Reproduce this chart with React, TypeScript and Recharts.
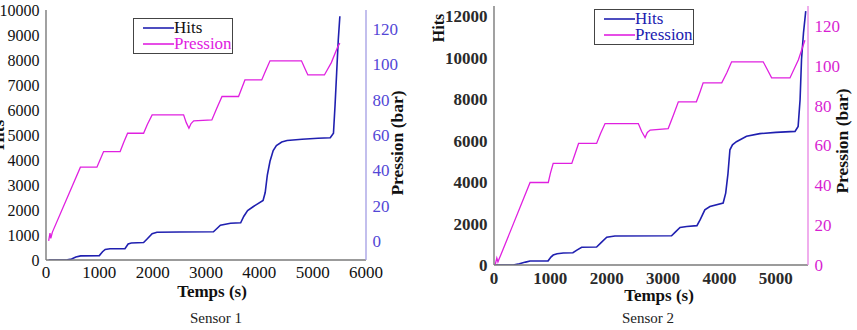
import React from "react";
import { LineChart, Line, XAxis, YAxis, Legend } from "recharts";

// Sensor 1: cumulative hits over time
const s1HitsTime = [50, 400, 480, 560, 650, 1000, 1060, 1110, 1200, 1480, 1540, 1600, 1830, 1900, 1990, 2080, 2500, 3140, 3200, 3270, 3460, 3650, 3710, 3780, 3890, 4070, 4110, 4150, 4200, 4260, 4320, 4420, 4520, 4800, 5100, 5330, 5390, 5420, 5450, 5480, 5510];
const s1Hits = [0, 10, 40, 120, 165, 175, 330, 420, 450, 450, 640, 680, 700, 850, 1050, 1110, 1120, 1130, 1250, 1390, 1470, 1490, 1750, 1980, 2140, 2380, 2700, 3400, 3950, 4380, 4580, 4720, 4780, 4830, 4870, 4890, 5070, 6200, 7500, 8800, 9750];

// Sensor 1: pressure (bar)
const s1PressTime = [50, 75, 90, 120, 645, 955, 1000, 1080, 1390, 1460, 1530, 1830, 1900, 1990, 2580, 2630, 2680, 2720, 2770, 3110, 3200, 3300, 3610, 3670, 3730, 4045, 4120, 4200, 4790, 4850, 4910, 5220, 5350, 5470, 5510];
const s1Press = [0, 4.5, 1.5, 5, 41.8, 41.8, 45, 50.6, 50.6, 56, 61, 61, 66, 71.4, 71.4, 67, 63.8, 66.5, 68, 68.5, 75, 81.8, 81.8, 86.5, 91.2, 91.2, 96.5, 102, 102, 98, 94, 94, 101, 110, 112];

// Sensor 2: cumulative hits over time
const s2HitsTime = [0, 340, 450, 560, 640, 960, 1010, 1050, 1120, 1230, 1400, 1470, 1555, 1820, 1900, 2000, 2145, 3150, 3220, 3300, 3420, 3600, 3660, 3740, 3830, 4065, 4110, 4150, 4185, 4230, 4300, 4480, 4715, 5000, 5340, 5395, 5430, 5455, 5490, 5530];
const s2Hits = [0, 0, 60, 140, 190, 200, 380, 480, 540, 580, 590, 720, 855, 870, 1080, 1340, 1400, 1410, 1600, 1810, 1860, 1900, 2200, 2660, 2820, 2990, 3470, 4400, 5560, 5800, 5950, 6210, 6340, 6400, 6450, 6690, 8000, 9920, 11200, 12250];

// Sensor 2: pressure (bar)
const s2PressTime = [20, 50, 70, 90, 120, 640, 963, 1000, 1050, 1380, 1440, 1500, 1820, 1890, 1970, 2560, 2620, 2680, 2720, 2770, 3090, 3180, 3270, 3590, 3650, 3710, 4040, 4130, 4215, 4775, 4850, 4925, 5250, 5400, 5515];
const s2Press = [0, 3.5, 1.5, 3, 5, 41.4, 41.4, 46, 51, 51, 56, 61, 61, 66, 71, 71, 67, 64, 66.5, 67.7, 68.5, 75, 81.9, 81.9, 86.5, 91.4, 91.4, 96.5, 102, 102, 98, 93.9, 93.9, 103, 112.8];

// tick positions (majors get labels, the rest are minor marks)
const s1TimeTicks = [0, 500, 1000, 1500, 2000, 2500, 3000, 3500, 4000, 4500, 5000, 5500, 6000];
const s1HitsTicks = [0, 500, 1000, 1500, 2000, 2500, 3000, 3500, 4000, 4500, 5000, 5500, 6000, 6500, 7000, 7500, 8000, 8500, 9000, 9500, 10000];
const s1PressTicks = [-10, 0, 10, 20, 30, 40, 50, 60, 70, 80, 90, 100, 110, 120, 130];
const s2TimeTicks = [0, 500, 1000, 1500, 2000, 2500, 3000, 3500, 4000, 4500, 5000, 5500];
const s2HitsTicks = [0, 1000, 2000, 3000, 4000, 5000, 6000, 7000, 8000, 9000, 10000, 11000, 12000];
const s2PressTicks = [0, 10, 20, 30, 40, 50, 60, 70, 80, 90, 100, 110, 120, 130];

const zip = (t: number[], v: number[]) => t.map((x, i) => ({ t: x, v: v[i] }));

const BLUE = "#2020b0";
const MAGENTA = "#e020e0";
const SERIF = "Liberation Serif";

type Side = "bottom" | "top" | "left" | "right";

function axisTick(side: Side, major: number, color: string, weight: number, labelDy = 18, size = 17) {
  return function TickMark(props: any) {
    const { x, y, payload } = props;
    const v = payload.value as number;
    const isMajor = Math.abs(v % major) < 1e-6;
    const len = isMajor ? 5.5 : 3.5;
    const textProps = { fill: color, style: { fontSize: size, fontFamily: SERIF, fontWeight: weight } };
    if (side === "bottom") {
      return (
        <g>
          <line x1={x} y1={y} x2={x} y2={y + len} stroke={props.stroke} strokeWidth={1.2} />
          {isMajor && <text x={x} y={y + labelDy} textAnchor="middle" {...textProps}>{v}</text>}
        </g>
      );
    }
    if (side === "top") {
      return <line x1={x} y1={y} x2={x} y2={y + len} stroke={props.stroke} strokeWidth={1.2} />;
    }
    if (side === "left") {
      return (
        <g>
          <line x1={x} y1={y} x2={x - len} y2={y} stroke={props.stroke} strokeWidth={1.2} />
          {isMajor && <text x={x - len - 1} y={y + 6} textAnchor="end" {...textProps}>{v}</text>}
        </g>
      );
    }
    return (
      <g>
        <line x1={x} y1={y} x2={x + len} y2={y} stroke={props.stroke} strokeWidth={1.2} />
        {isMajor && v >= 0 && v <= 120 && <text x={x + len + 1} y={y + 6} textAnchor="start" {...textProps}>{v}</text>}
      </g>
    );
  };
}

function legendBox(hitsColor: string, pressColor: string) {
  return function LegendBox(props: any) {
    const items = props.payload || [];
    return (
      <div style={{ border: "1px solid #444", width: 100, height: 36, boxSizing: "border-box", background: "white", paddingTop: 1 }}>
        {items.map((it: any, i: number) => (
          <div key={i} style={{ display: "flex", alignItems: "center", height: 16 }}>
            <svg width={40} height={10}>
              <line x1={9} y1={5} x2={40} y2={5} stroke={it.color} strokeWidth={1.6} />
            </svg>
            <span style={{ fontFamily: SERIF, fontSize: 17, lineHeight: "16px", color: i === 0 ? hitsColor : pressColor }}>{it.value}</span>
          </div>
        ))}
      </div>
    );
  };
}

const abs = (x: number, y: number, extra: React.CSSProperties = {}): React.CSSProperties => ({
  position: "absolute",
  left: x,
  top: y,
  transform: "translate(-50%, -50%)",
  whiteSpace: "nowrap",
  fontFamily: SERIF,
  lineHeight: 1,
  ...extra,
});

const rot = (x: number, y: number, extra: React.CSSProperties = {}): React.CSSProperties => ({
  ...abs(x, y, extra),
  transform: "translate(-50%, -50%) rotate(-90deg)",
});

export default function App() {
  const gray = "#7a7a7a";
  const lav = "#aaa4e6";
  const violet = "#5347d6";
  const pink = "#ea8ce6";
  return (
    <div style={{ position: "absolute", left: 0, top: 0, width: 857, height: 330, background: "white", overflow: "hidden", fontFamily: SERIF }}>
      {/* Sensor 1 */}
      <div style={{ position: "absolute", left: 0, top: 0 }}>
        <LineChart width={420} height={330} margin={{ top: 10, right: 0, left: 0, bottom: 0 }}>
          <XAxis xAxisId="b" dataKey="t" type="number" domain={[0, 6000]} allowDataOverflow ticks={s1TimeTicks} interval={0} height={70}
            tickSize={0} tickMargin={0} tickLine={false} axisLine={{ stroke: gray, strokeWidth: 1.4 }} stroke={gray}
            tick={axisTick("bottom", 1000, "#111", 400, 18)} />
          <XAxis xAxisId="top" orientation="top" dataKey="t" type="number" domain={[0, 6000]} allowDataOverflow ticks={s1TimeTicks} interval={0} height={0}
            tickSize={0} tickMargin={0} tickLine={false} axisLine={{ stroke: gray, strokeWidth: 1.4 }} stroke={gray}
            tick={axisTick("top", 1000, gray, 400)} />
          <YAxis yAxisId="hits" orientation="left" type="number" domain={[0, 10000]} allowDataOverflow ticks={s1HitsTicks} interval={0} width={46}
            tickSize={0} tickMargin={0} tickLine={false} axisLine={{ stroke: gray, strokeWidth: 1.4 }} stroke={gray}
            tick={axisTick("left", 1000, "#111", 400, 18, 16)} />
          <YAxis yAxisId="press" orientation="right" type="number" domain={[-10.8, 130.8]} allowDataOverflow ticks={s1PressTicks} interval={0} width={54}
            tickSize={0} tickMargin={0} tickLine={false} axisLine={{ stroke: lav, strokeWidth: 1.4 }} stroke={lav}
            tick={axisTick("right", 20, violet, 400)} />
          <Legend layout="vertical" align="center" verticalAlign="middle"
            wrapperStyle={{ left: 133, top: 18, width: 100, height: 36 }}
            content={legendBox("#111", MAGENTA)} />
          <Line xAxisId="b" yAxisId="hits" name="Hits" data={zip(s1HitsTime, s1Hits)} dataKey="v" type="linear"
            stroke={BLUE} strokeWidth={1.6} dot={false} isAnimationActive={false} />
          <Line xAxisId="b" yAxisId="press" name="Pression" data={zip(s1PressTime, s1Press)} dataKey="v" type="linear"
            stroke={MAGENTA} strokeWidth={1.3} dot={false} isAnimationActive={false} />
        </LineChart>
      </div>

      {/* Sensor 2 */}
      <div style={{ position: "absolute", left: 430, top: 0 }}>
        <LineChart width={427} height={330} margin={{ top: 6, right: 0, left: 0, bottom: 0 }}>
          <XAxis xAxisId="b" dataKey="t" type="number" domain={[0, 5570]} allowDataOverflow ticks={s2TimeTicks} interval={0} height={65}
            tickSize={0} tickMargin={0} tickLine={false} axisLine={{ stroke: gray, strokeWidth: 1.4 }} stroke={gray}
            tick={axisTick("bottom", 1000, "#2a2a2a", 700, 19)} />
          <XAxis xAxisId="top" orientation="top" dataKey="t" type="number" domain={[0, 5570]} allowDataOverflow ticks={s2TimeTicks} interval={0} height={0}
            tickSize={0} tickMargin={0} tickLine={false} axisLine={{ stroke: gray, strokeWidth: 1.4 }} stroke={gray}
            tick={axisTick("top", 1000, gray, 400)} />
          <YAxis yAxisId="hits" orientation="left" type="number" domain={[0, 12500]} allowDataOverflow ticks={s2HitsTicks} interval={0} width={64}
            tickSize={0} tickMargin={0} tickLine={false} axisLine={{ stroke: gray, strokeWidth: 1.4 }} stroke={gray}
            tick={axisTick("left", 2000, "#2a2a2a", 700)} />
          <YAxis yAxisId="press" orientation="right" type="number" domain={[0, 130]} allowDataOverflow ticks={s2PressTicks} interval={0} width={49}
            tickSize={0} tickMargin={0} tickLine={false} axisLine={{ stroke: pink, strokeWidth: 1.4 }} stroke={pink}
            tick={axisTick("right", 20, "#d81fd2", 400)} />
          <Legend layout="vertical" align="center" verticalAlign="middle"
            wrapperStyle={{ left: 164, top: 9, width: 100, height: 36 }}
            content={legendBox(BLUE, BLUE)} />
          <Line xAxisId="b" yAxisId="hits" name="Hits" data={zip(s2HitsTime, s2Hits)} dataKey="v" type="linear"
            stroke={BLUE} strokeWidth={1.6} dot={false} isAnimationActive={false} />
          <Line xAxisId="b" yAxisId="press" name="Pression" data={zip(s2PressTime, s2Press)} dataKey="v" type="linear"
            stroke={MAGENTA} strokeWidth={1.3} dot={false} isAnimationActive={false} />
        </LineChart>
      </div>

      {/* axis titles and captions */}
      <div style={rot(-2, 135, { fontSize: 17, fontWeight: 700, color: "#111" })}>Hits</div>
      <div style={rot(398, 143, { fontSize: 17.5, fontWeight: 700, color: "#111" })}>Pression (bar)</div>
      <div style={abs(212, 291, { fontSize: 17, fontWeight: 700, color: "#111" })}>Temps (s)</div>
      <div style={abs(216, 318, { fontSize: 15, color: "#222" })}>Sensor 1</div>

      <div style={rot(439, 28, { fontSize: 16, fontWeight: 700, color: "#111" })}>Hits</div>
      <div style={rot(843, 141, { fontSize: 17.5, fontWeight: 700, color: "#111" })}>Pression (bar)</div>
      <div style={abs(659, 295, { fontSize: 17, fontWeight: 700, color: "#111" })}>Temps (s)</div>
      <div style={abs(648, 318, { fontSize: 15, color: "#222" })}>Sensor 2</div>
    </div>
  );
}
